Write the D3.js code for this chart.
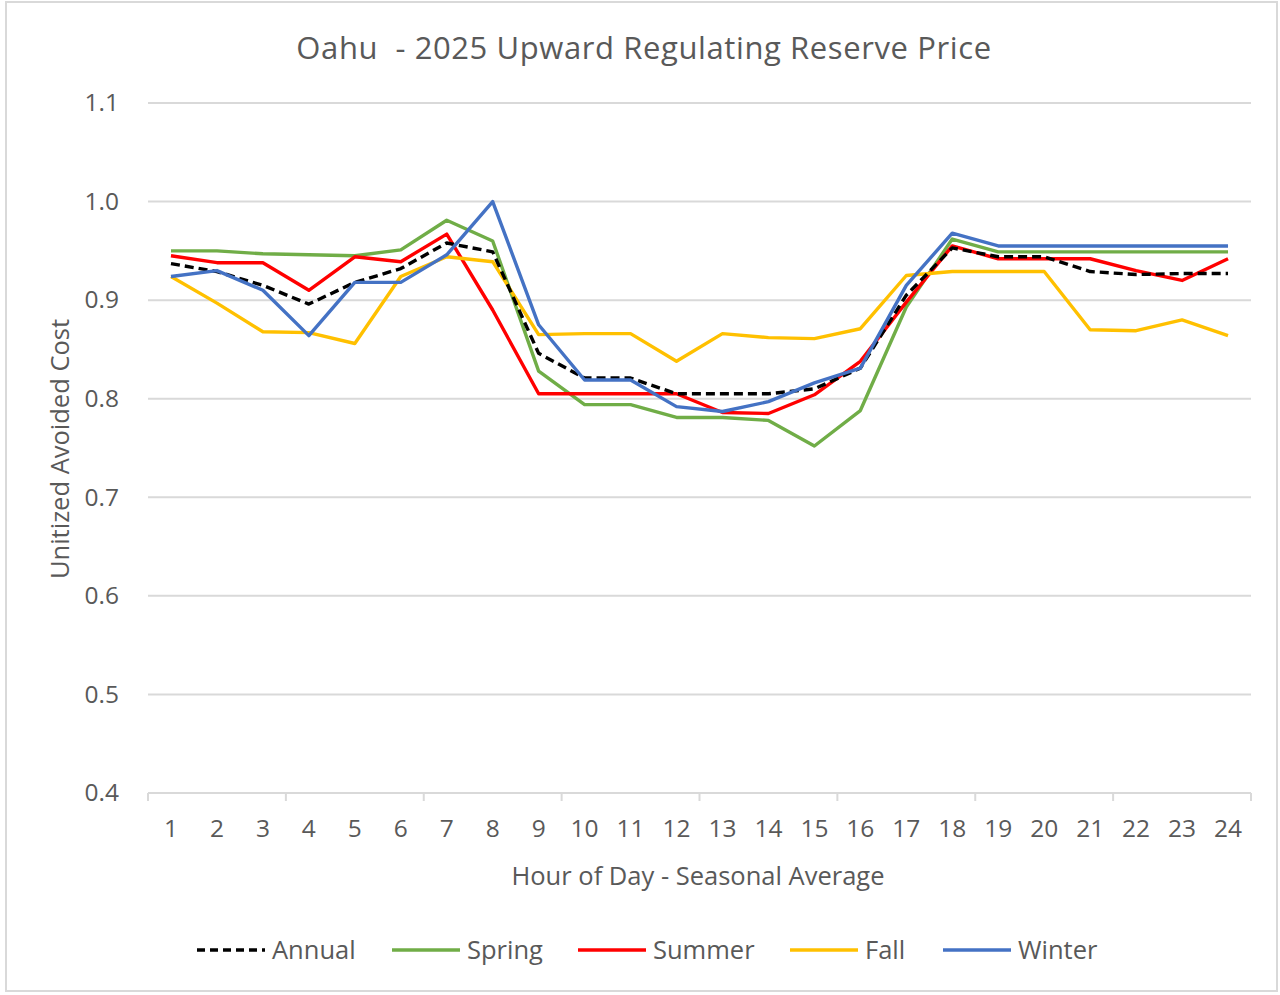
<!DOCTYPE html>
<html>
<head>
<meta charset="utf-8">
<script src="https://cdn.jsdelivr.net/npm/d3@7"></script>
<style>
  html, body { margin: 0; padding: 0; background: #fff; }
  svg text { font-family: "Open Sans", "Noto Sans", sans-serif; fill: #595959; }
</style>
</head>
<body>
<svg id="chart" width="1280" height="995"></svg>
<script>
// Hour of day (categories)
const hours = d3.range(1, 25).map(String);

// Unitized avoided cost by hour, per season
const annual = [0.937, 0.929, 0.915, 0.896, 0.918, 0.932, 0.958, 0.949, 0.846, 0.821, 0.821, 0.805,
                0.805, 0.805, 0.810, 0.831, 0.905, 0.953, 0.944, 0.944, 0.929, 0.926, 0.927, 0.927];
const spring = [0.950, 0.950, 0.947, 0.946, 0.945, 0.951, 0.981, 0.960, 0.828, 0.794, 0.794, 0.781,
                0.781, 0.778, 0.752, 0.788, 0.893, 0.962, 0.949, 0.949, 0.949, 0.949, 0.949, 0.949];
const summer = [0.945, 0.938, 0.938, 0.910, 0.944, 0.939, 0.967, 0.890, 0.805, 0.805, 0.805, 0.805,
                0.786, 0.785, 0.804, 0.838, 0.898, 0.955, 0.942, 0.942, 0.942, 0.930, 0.920, 0.942];
const fall   = [0.924, 0.897, 0.868, 0.867, 0.856, 0.924, 0.944, 0.939, 0.865, 0.866, 0.866, 0.838,
                0.866, 0.862, 0.861, 0.871, 0.925, 0.929, 0.929, 0.929, 0.870, 0.869, 0.880, 0.864];
const winter = [0.924, 0.930, 0.910, 0.864, 0.918, 0.918, 0.946, 1.000, 0.875, 0.819, 0.819, 0.792,
                0.787, 0.797, 0.816, 0.831, 0.915, 0.968, 0.955, 0.955, 0.955, 0.955, 0.955, 0.955];

const yTicks = [0.4, 0.5, 0.6, 0.7, 0.8, 0.9, 1.0, 1.1];
const yTickLabels = ["0.4", "0.5", "0.6", "0.7", "0.8", "0.9", "1.0", "1.1"];

const seriesNames = ["Annual", "Spring", "Summer", "Fall", "Winter"];
const seriesColors = ["#000000", "#70ad47", "#ff0000", "#ffc000", "#4472c4"];
const seriesDash = ["9,5", null, null, null, null];
const seriesValues = [annual, spring, summer, fall, winter];

const series = seriesNames.map((name, i) => ({
  name, color: seriesColors[i], dash: seriesDash[i], values: seriesValues[i]
}));

const svg = d3.select("#chart");
const plot = { left: 148, right: 1251, top: 103, bottom: 793 };
const FONT = "'Open Sans', 'Noto Sans', sans-serif";

// Outer chart frame
svg.append("rect")
  .attr("x", 6).attr("y", 2).attr("width", 1271).attr("height", 989)
  .attr("fill", "#fff").attr("stroke", "#d9d9d9").attr("stroke-width", 2);

// Title
svg.append("text")
  .attr("x", 644).attr("y", 59)
  .attr("text-anchor", "middle")
  .style("font-size", "31px")
  .style("letter-spacing", "0.6px")
  .attr("xml:space", "preserve")
  .text("Oahu  - 2025 Upward Regulating Reserve Price");

const x = d3.scaleBand().domain(hours).range([plot.left, plot.right]).paddingInner(0).paddingOuter(0);
const y = d3.scaleLinear().domain([0.4, 1.1]).range([plot.bottom, plot.top]);
const xc = h => x(h) + x.bandwidth() / 2;

// Horizontal gridlines
svg.append("g")
  .selectAll("line")
  .data(yTicks.filter(v => v > 0.4))
  .join("line")
  .attr("x1", plot.left).attr("x2", plot.right)
  .attr("y1", d => y(d)).attr("y2", d => y(d))
  .attr("stroke", "#d9d9d9").attr("stroke-width", 2);

// Y axis labels
const yAxis = d3.axisLeft(y).tickValues(yTicks)
  .tickFormat((d, i) => yTickLabels[i]).tickSize(0).tickPadding(29);
const gy = svg.append("g").attr("transform", `translate(${plot.left},0)`).call(yAxis);
gy.select(".domain").remove();
gy.selectAll("text").style("font-size", "24.5px").attr("fill", "#595959")
  .style("font-family", FONT);

// X axis: labels on every hour, tick marks every third category boundary
const xAxis = d3.axisBottom(x).tickSize(0).tickPadding(27);
const gx = svg.append("g").attr("transform", `translate(0,${plot.bottom})`).call(xAxis);
gx.select(".domain").remove();
gx.selectAll("text").style("font-size", "24.5px").attr("fill", "#595959")
  .style("font-family", FONT);
gx.append("line")
  .attr("x1", plot.left).attr("x2", plot.right)
  .attr("y1", 0).attr("y2", 0)
  .attr("stroke", "#d9d9d9").attr("stroke-width", 2);
const boundaries = hours.filter((h, i) => i % 3 === 0).map(h => x(h)).concat([plot.right]);
gx.selectAll("line.tickmark")
  .data(boundaries)
  .join("line")
  .attr("class", "tickmark")
  .attr("x1", d => d).attr("x2", d => d)
  .attr("y1", 0).attr("y2", 8)
  .attr("stroke", "#d9d9d9").attr("stroke-width", 2);

// Axis titles
svg.append("text")
  .attr("x", 698).attr("y", 885)
  .attr("text-anchor", "middle")
  .style("font-size", "25.5px")
  .text("Hour of Day - Seasonal Average");

svg.append("text")
  .attr("transform", "translate(69,449) rotate(-90)")
  .attr("text-anchor", "middle")
  .style("font-size", "25.5px")
  .text("Unitized Avoided Cost");

// Series lines
const line = d3.line()
  .x((d, i) => xc(hours[i]))
  .y(d => y(d));

const drawOrder = [1, 2, 3, 0, 4];
svg.append("g")
  .selectAll("path")
  .data(drawOrder.map(i => series[i]))
  .join("path")
  .attr("d", d => line(d.values))
  .attr("fill", "none")
  .attr("stroke", d => d.color)
  .attr("stroke-width", 3.4)
  .attr("stroke-linejoin", "round")
  .attr("stroke-dasharray", d => d.dash);

// Legend
const legendX = [197, 392, 578, 790, 943];
const legend = svg.append("g").selectAll("g")
  .data(series)
  .join("g")
  .attr("transform", (d, i) => `translate(${legendX[i]},950)`);
legend.append("line")
  .attr("x1", 0).attr("x2", 68).attr("y1", 0).attr("y2", 0)
  .attr("stroke", d => d.color).attr("stroke-width", 3.4)
  .attr("stroke-dasharray", d => d.dash ? "8,5" : null);
legend.append("text")
  .attr("x", 75).attr("y", 9)
  .style("font-size", "25.5px")
  .text(d => d.name);
</script>
</body>
</html>
